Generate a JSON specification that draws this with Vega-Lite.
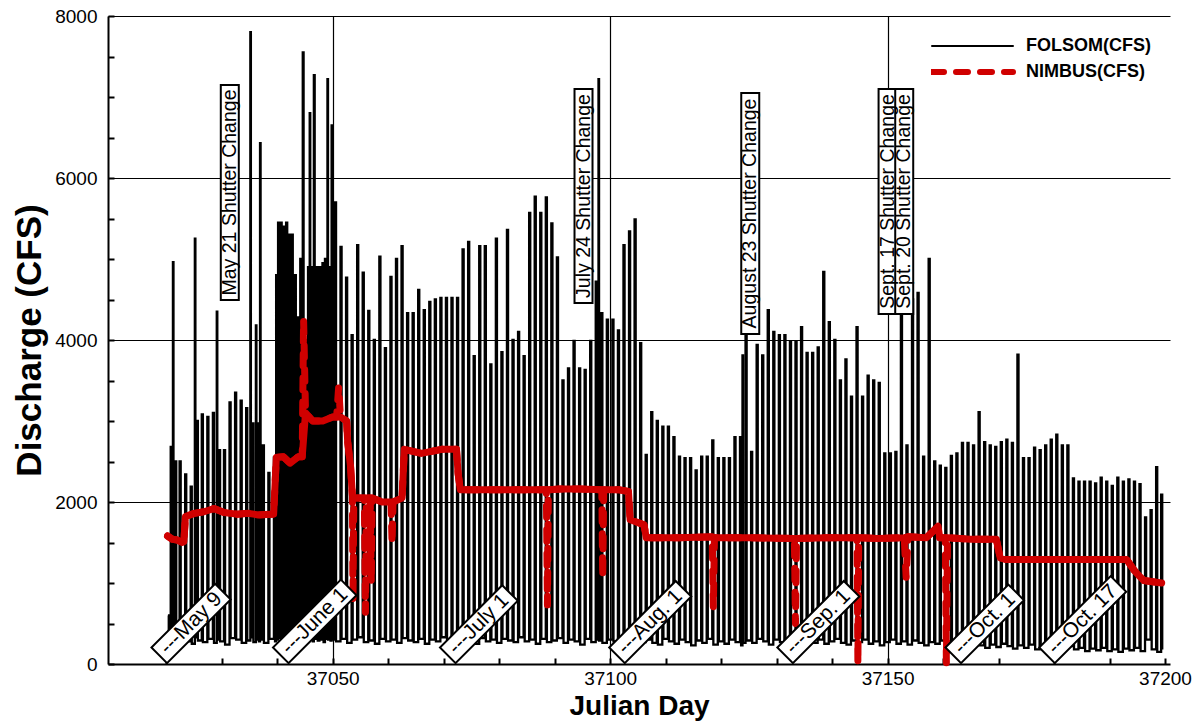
{
  "$schema": "https://vega.github.io/schema/vega-lite/v6.json",
  "width": 1062,
  "height": 648,
  "autosize": {"type": "none"},
  "padding": {"left": 108, "top": 16, "right": 28, "bottom": 60},
  "background": "white",
  "config": {
    "view": {"stroke": null},
    "font": "Liberation Sans",
    "axis": {
      "domainColor": "black", "domainWidth": 2,
      "tickColor": "black", "tickWidth": 2,
      "labelColor": "black", "titleColor": "black",
      "labelFont": "Liberation Sans", "titleFont": "Liberation Sans",
      "gridColor": "black"
    }
  },
  "datasets": {
    "folsom": [
      {"t":37020.3,"v":600},{"t":37020.45,"v":300},{"t":37020.8,"v":2680},{"t":37021.0,"v":280},
      {"t":37021.2,"v":4960},{"t":37021.3,"v":310},{"t":37021.6,"v":2500},{"t":37021.8,"v":260},
      {"t":37022.4,"v":2500},{"t":37022.6,"v":320},{"t":37023.4,"v":2340},{"t":37023.6,"v":280},
      {"t":37024.4,"v":2190},{"t":37024.6,"v":250},{"t":37025.15,"v":5250},{"t":37025.25,"v":330},
      {"t":37025.5,"v":3000},{"t":37025.7,"v":290},{"t":37026.4,"v":3080},{"t":37026.6,"v":270},
      {"t":37027.4,"v":3050},{"t":37027.6,"v":310},{"t":37028.4,"v":3100},{"t":37028.6,"v":260},
      {"t":37029.1,"v":4350},{"t":37029.2,"v":300},{"t":37029.5,"v":2640},{"t":37029.7,"v":280},
      {"t":37030.4,"v":2640},{"t":37030.6,"v":240},{"t":37031.4,"v":3230},{"t":37031.6,"v":320},
      {"t":37032.4,"v":3350},{"t":37032.6,"v":300},{"t":37033.4,"v":3250},{"t":37033.6,"v":260},
      {"t":37034.4,"v":3160},{"t":37034.6,"v":290},{"t":37035.15,"v":7800},{"t":37035.25,"v":330},
      {"t":37035.5,"v":2970},{"t":37035.7,"v":270},{"t":37036.15,"v":4180},{"t":37036.25,"v":300},
      {"t":37036.5,"v":2970},{"t":37036.7,"v":280},{"t":37036.9,"v":6430},{"t":37037.0,"v":300},
      {"t":37037.4,"v":2700},{"t":37037.6,"v":260},{"t":37038.4,"v":2360},{"t":37038.6,"v":310},
      {"t":37039.4,"v":2550},{"t":37039.6,"v":280},{"t":37039.8,"v":4800},{"t":37039.95,"v":300},
      {"t":37040.15,"v":5450},{"t":37040.35,"v":320},{"t":37040.6,"v":5450},{"t":37040.8,"v":300},
      {"t":37041.15,"v":5400},{"t":37041.35,"v":280},{"t":37041.6,"v":5450},{"t":37041.8,"v":310},
      {"t":37042.15,"v":5300},{"t":37042.35,"v":290},{"t":37042.6,"v":5300},{"t":37042.8,"v":330},
      {"t":37043.15,"v":4800},{"t":37043.35,"v":300},{"t":37043.6,"v":4280},{"t":37043.8,"v":280},
      {"t":37044.15,"v":5000},{"t":37044.35,"v":310},{"t":37044.6,"v":7550},{"t":37044.75,"v":300},
      {"t":37045.1,"v":4000},{"t":37045.3,"v":290},{"t":37045.55,"v":4900},{"t":37045.7,"v":320},
      {"t":37045.85,"v":6800},{"t":37045.95,"v":300},{"t":37046.2,"v":4900},{"t":37046.4,"v":280},
      {"t":37046.6,"v":7270},{"t":37046.75,"v":310},{"t":37047.1,"v":4900},{"t":37047.3,"v":290},
      {"t":37047.6,"v":4900},{"t":37047.8,"v":300},{"t":37048.15,"v":4950},{"t":37048.35,"v":270},
      {"t":37048.6,"v":5000},{"t":37048.8,"v":310},{"t":37049.05,"v":7220},{"t":37049.15,"v":300},
      {"t":37049.4,"v":4900},{"t":37049.6,"v":290},{"t":37049.8,"v":6650},{"t":37049.95,"v":300},
      {"t":37050.4,"v":5700},{"t":37050.6,"v":280},{"t":37051.4,"v":5150},{"t":37051.6,"v":310},
      {"t":37052.4,"v":4770},{"t":37052.6,"v":260},{"t":37053.4,"v":4060},{"t":37053.6,"v":300},
      {"t":37054.4,"v":5170},{"t":37054.6,"v":330},{"t":37055.4,"v":4830},{"t":37055.6,"v":270},
      {"t":37056.4,"v":4360},{"t":37056.6,"v":290},{"t":37057.4,"v":4000},{"t":37057.6,"v":250},
      {"t":37058.4,"v":5030},{"t":37058.6,"v":310},{"t":37059.4,"v":3900},{"t":37059.6,"v":280},
      {"t":37060.4,"v":4780},{"t":37060.6,"v":300},{"t":37061.4,"v":5000},{"t":37061.6,"v":260},
      {"t":37062.4,"v":5160},{"t":37062.6,"v":320},{"t":37063.4,"v":4330},{"t":37063.6,"v":290},
      {"t":37064.4,"v":4330},{"t":37064.6,"v":270},{"t":37065.4,"v":4620},{"t":37065.6,"v":310},
      {"t":37066.4,"v":4370},{"t":37066.6,"v":250},{"t":37067.4,"v":4470},{"t":37067.6,"v":300},
      {"t":37068.4,"v":4500},{"t":37068.6,"v":280},{"t":37069.4,"v":4520},{"t":37069.6,"v":330},
      {"t":37070.4,"v":4520},{"t":37070.6,"v":260},{"t":37071.4,"v":4520},{"t":37071.6,"v":290},
      {"t":37072.4,"v":4520},{"t":37072.6,"v":310},{"t":37073.4,"v":5120},{"t":37073.6,"v":270},
      {"t":37074.4,"v":5210},{"t":37074.6,"v":300},{"t":37075.4,"v":3800},{"t":37075.6,"v":250},
      {"t":37076.4,"v":5160},{"t":37076.6,"v":320},{"t":37077.4,"v":5160},{"t":37077.6,"v":280},
      {"t":37078.4,"v":3700},{"t":37078.6,"v":300},{"t":37079.4,"v":5250},{"t":37079.6,"v":260},
      {"t":37080.4,"v":3850},{"t":37080.6,"v":310},{"t":37081.4,"v":5360},{"t":37081.6,"v":290},
      {"t":37082.4,"v":4000},{"t":37082.6,"v":270},{"t":37083.4,"v":4100},{"t":37083.6,"v":330},
      {"t":37084.4,"v":3800},{"t":37084.6,"v":280},{"t":37085.4,"v":5570},{"t":37085.6,"v":300},
      {"t":37086.4,"v":5770},{"t":37086.6,"v":250},{"t":37087.4,"v":5570},{"t":37087.6,"v":310},
      {"t":37088.4,"v":5760},{"t":37088.6,"v":270},{"t":37089.4,"v":5440},{"t":37089.6,"v":290},
      {"t":37090.4,"v":5020},{"t":37090.6,"v":320},{"t":37091.4,"v":3500},{"t":37091.6,"v":260},
      {"t":37092.4,"v":3650},{"t":37092.6,"v":300},{"t":37093.4,"v":3990},{"t":37093.6,"v":280},
      {"t":37094.4,"v":3650},{"t":37094.6,"v":240},{"t":37095.4,"v":3630},{"t":37095.6,"v":310},
      {"t":37096.4,"v":3990},{"t":37096.6,"v":270},{"t":37097.4,"v":4720},{"t":37097.6,"v":300},
      {"t":37097.9,"v":7220},{"t":37098.0,"v":290},
      {"t":37098.4,"v":4330},{"t":37098.6,"v":260},{"t":37099.4,"v":4250},{"t":37099.6,"v":300},
      {"t":37100.4,"v":4250},{"t":37100.6,"v":280},{"t":37101.4,"v":4120},{"t":37101.6,"v":320},
      {"t":37102.4,"v":5170},{"t":37102.6,"v":250},{"t":37103.4,"v":5340},{"t":37103.6,"v":290},
      {"t":37104.4,"v":5490},{"t":37104.6,"v":310},{"t":37105.4,"v":3960},{"t":37105.6,"v":270},
      {"t":37106.4,"v":2580},{"t":37106.6,"v":300},{"t":37107.4,"v":3110},{"t":37107.6,"v":260},
      {"t":37108.4,"v":3000},{"t":37108.6,"v":240},{"t":37109.4,"v":2930},{"t":37109.6,"v":310},
      {"t":37110.4,"v":2930},{"t":37110.6,"v":280},{"t":37111.4,"v":2800},{"t":37111.6,"v":250},
      {"t":37112.4,"v":2560},{"t":37112.6,"v":300},{"t":37113.4,"v":2540},{"t":37113.6,"v":270},
      {"t":37114.4,"v":2540},{"t":37114.6,"v":230},{"t":37115.4,"v":2390},{"t":37115.6,"v":290},
      {"t":37116.4,"v":2560},{"t":37116.6,"v":260},{"t":37117.4,"v":2560},{"t":37117.6,"v":310},
      {"t":37118.4,"v":2760},{"t":37118.6,"v":240},{"t":37119.4,"v":2540},{"t":37119.6,"v":280},
      {"t":37120.4,"v":2540},{"t":37120.6,"v":250},{"t":37121.4,"v":2540},{"t":37121.6,"v":300},
      {"t":37122.4,"v":2800},{"t":37122.6,"v":270},{"t":37123.4,"v":2800},{"t":37123.6,"v":230},
      {"t":37123.85,"v":3810},{"t":37123.95,"v":260},
      {"t":37124.4,"v":4300},{"t":37124.6,"v":290},{"t":37125.4,"v":2620},{"t":37125.6,"v":260},
      {"t":37126.4,"v":3940},{"t":37126.6,"v":310},{"t":37127.4,"v":3810},{"t":37127.6,"v":280},
      {"t":37128.4,"v":4370},{"t":37128.6,"v":240},{"t":37129.4,"v":4100},{"t":37129.6,"v":300},
      {"t":37130.4,"v":4060},{"t":37130.6,"v":270},{"t":37131.4,"v":4060},{"t":37131.6,"v":250},
      {"t":37132.4,"v":3980},{"t":37132.6,"v":310},{"t":37133.4,"v":3980},{"t":37133.6,"v":280},
      {"t":37134.4,"v":4160},{"t":37134.6,"v":230},{"t":37135.4,"v":3840},{"t":37135.6,"v":290},
      {"t":37136.4,"v":3840},{"t":37136.6,"v":260},{"t":37137.4,"v":3910},{"t":37137.6,"v":300},
      {"t":37138.4,"v":4840},{"t":37138.6,"v":250},{"t":37139.4,"v":4220},{"t":37139.6,"v":280},
      {"t":37140.4,"v":4000},{"t":37140.6,"v":310},{"t":37141.4,"v":3500},{"t":37141.6,"v":260},
      {"t":37142.4,"v":3760},{"t":37142.6,"v":240},{"t":37143.4,"v":3300},{"t":37143.6,"v":290},
      {"t":37144.4,"v":4160},{"t":37144.6,"v":270},{"t":37145.4,"v":3300},{"t":37145.6,"v":300},
      {"t":37146.4,"v":3560},{"t":37146.6,"v":250},{"t":37147.4,"v":3500},{"t":37147.6,"v":280},
      {"t":37148.4,"v":3470},{"t":37148.6,"v":230},{"t":37149.4,"v":2600},{"t":37149.6,"v":270},
      {"t":37150.4,"v":2600},{"t":37150.6,"v":300},{"t":37151.4,"v":2620},{"t":37151.6,"v":250},
      {"t":37152.4,"v":4500},{"t":37152.6,"v":280},{"t":37153.4,"v":2700},{"t":37153.6,"v":240},
      {"t":37154.4,"v":4500},{"t":37154.6,"v":290},{"t":37155.4,"v":4580},{"t":37155.6,"v":260},
      {"t":37156.4,"v":2560},{"t":37156.6,"v":230},{"t":37157.4,"v":5000},{"t":37157.6,"v":270},
      {"t":37158.4,"v":2500},{"t":37158.6,"v":250},{"t":37159.4,"v":2450},{"t":37159.6,"v":290},
      {"t":37160.4,"v":2420},{"t":37160.6,"v":230},{"t":37161.4,"v":2570},{"t":37161.6,"v":260},
      {"t":37162.4,"v":2600},{"t":37162.6,"v":280},{"t":37163.4,"v":2730},{"t":37163.6,"v":240},
      {"t":37164.4,"v":2730},{"t":37164.6,"v":220},{"t":37165.4,"v":2700},{"t":37165.6,"v":260},
      {"t":37166.4,"v":3110},{"t":37166.6,"v":230},{"t":37167.4,"v":2740},{"t":37167.6,"v":200},
      {"t":37168.4,"v":2700},{"t":37168.6,"v":240},{"t":37169.4,"v":2680},{"t":37169.6,"v":210},
      {"t":37170.4,"v":2740},{"t":37170.6,"v":250},{"t":37171.4,"v":2770},{"t":37171.6,"v":220},
      {"t":37172.4,"v":2730},{"t":37172.6,"v":190},{"t":37173.4,"v":3820},{"t":37173.6,"v":230},
      {"t":37174.4,"v":2540},{"t":37174.6,"v":200},{"t":37175.4,"v":2540},{"t":37175.6,"v":240},
      {"t":37176.4,"v":2670},{"t":37176.6,"v":180},{"t":37177.4,"v":2640},{"t":37177.6,"v":220},
      {"t":37178.4,"v":2700},{"t":37178.6,"v":200},{"t":37179.4,"v":2770},{"t":37179.6,"v":170},
      {"t":37180.4,"v":2830},{"t":37180.6,"v":210},{"t":37181.4,"v":2700},{"t":37181.6,"v":190},
      {"t":37182.4,"v":2700},{"t":37182.6,"v":220},{"t":37183.4,"v":2290},{"t":37183.6,"v":180},
      {"t":37184.4,"v":2250},{"t":37184.6,"v":200},{"t":37185.4,"v":2250},{"t":37185.6,"v":160},
      {"t":37186.4,"v":2250},{"t":37186.6,"v":190},{"t":37187.4,"v":2230},{"t":37187.6,"v":170},
      {"t":37188.4,"v":2300},{"t":37188.6,"v":200},{"t":37189.4,"v":2250},{"t":37189.6,"v":160},
      {"t":37190.4,"v":2200},{"t":37190.6,"v":180},{"t":37191.4,"v":2300},{"t":37191.6,"v":150},
      {"t":37192.4,"v":2250},{"t":37192.6,"v":190},{"t":37193.4,"v":2280},{"t":37193.6,"v":170},
      {"t":37194.4,"v":2250},{"t":37194.6,"v":200},{"t":37195.4,"v":2220},{"t":37195.6,"v":160},
      {"t":37196.4,"v":1810},{"t":37196.6,"v":300},{"t":37197.4,"v":1900},{"t":37197.6,"v":180},
      {"t":37198.4,"v":2430},{"t":37198.6,"v":150},{"t":37199.3,"v":2090},{"t":37199.5,"v":180}
    ],
    "nimbus": [
      {"t":37020.23,"v":1580},{"t":37021.1,"v":1540},{"t":37022.0,"v":1530},{"t":37022.9,"v":1500},
      {"t":37023.17,"v":1510},{"t":37023.45,"v":1820},{"t":37025.05,"v":1860},{"t":37026.8,"v":1880},
      {"t":37028.6,"v":1920},{"t":37030.4,"v":1870},{"t":37032.7,"v":1850},{"t":37034.8,"v":1860},
      {"t":37036.6,"v":1840},{"t":37038.9,"v":1850},{"t":37039.35,"v":1850},{"t":37039.84,"v":2550},
      {"t":37041.1,"v":2560},{"t":37042.3,"v":2480},{"t":37043.8,"v":2560},{"t":37044.5,"v":2560},
      {"t":37044.75,"v":4250,"dip":true},{"t":37045.1,"v":3100},{"t":37046.4,"v":3000},{"t":37048.2,"v":3000},
      {"t":37050.0,"v":3050},{"t":37050.7,"v":3050},{"t":37051.07,"v":3420,"dip":true},{"t":37051.4,"v":3050},
      {"t":37052.5,"v":3000},{"t":37052.7,"v":2740},{"t":37053.2,"v":2450},{"t":37053.55,"v":2080},
      {"t":37053.65,"v":770,"dip":true},{"t":37053.8,"v":2050},{"t":37055.7,"v":2050},
      {"t":37055.9,"v":640,"dip":true},{"t":37056.06,"v":2050},{"t":37056.76,"v":2050},
      {"t":37056.95,"v":1000,"dip":true},{"t":37057.1,"v":2050},{"t":37058.9,"v":2000},{"t":37060.5,"v":2000},
      {"t":37060.7,"v":1490,"dip":true},{"t":37060.87,"v":2000},{"t":37062.5,"v":2050},{"t":37062.9,"v":2650},
      {"t":37066.0,"v":2600},{"t":37069.6,"v":2650},{"t":37072.3,"v":2650},{"t":37072.6,"v":2350},
      {"t":37073.0,"v":2150},{"t":37076.7,"v":2150},{"t":37080.3,"v":2150},{"t":37083.9,"v":2150},
      {"t":37088.5,"v":2150},{"t":37088.7,"v":730,"dip":true},{"t":37088.86,"v":2150},{"t":37091.0,"v":2160},
      {"t":37094.6,"v":2160},{"t":37098.5,"v":2150},{"t":37098.66,"v":1070,"dip":true},{"t":37098.84,"v":2150},
      {"t":37101.7,"v":2150},{"t":37103.3,"v":2130},{"t":37103.6,"v":1780},{"t":37106.1,"v":1720},
      {"t":37106.5,"v":1560},{"t":37112.4,"v":1560},{"t":37118.4,"v":1570},{"t":37118.6,"v":700,"dip":true},
      {"t":37118.8,"v":1560},{"t":37124.9,"v":1560},{"t":37133.2,"v":1550},{"t":37133.4,"v":500,"dip":true},
      {"t":37133.6,"v":1550},{"t":37139.1,"v":1560},{"t":37144.5,"v":1560},{"t":37144.65,"v":0,"dip":true},
      {"t":37144.8,"v":1560},{"t":37148.2,"v":1550},{"t":37153.0,"v":1560},{"t":37153.35,"v":1070,"dip":true},
      {"t":37153.7,"v":1570},{"t":37157.0,"v":1560},{"t":37159.1,"v":1700},{"t":37159.4,"v":1560},
      {"t":37160.4,"v":1560},{"t":37160.6,"v":0,"dip":true},{"t":37160.8,"v":1560},{"t":37165.0,"v":1540},
      {"t":37169.6,"v":1540},{"t":37170.3,"v":1310},{"t":37171.2,"v":1290},{"t":37178.3,"v":1290},
      {"t":37187.2,"v":1290},{"t":37193.1,"v":1290},{"t":37194.4,"v":1160},{"t":37195.6,"v":1070},
      {"t":37196.2,"v":1030},{"t":37199.4,"v":1000}
    ],
    "noteBoxes": [
      {"t":37031.45,"v":7148,"v2":4494},
      {"t":37095.2,"v":7099,"v2":4457},
      {"t":37125.25,"v":7049,"v2":4074},
      {"t":37150.0,"v":7099,"v2":4321},
      {"t":37153.0,"v":7099,"v2":4321}
    ],
    "noteTexts": [
      {"t":37031.45,"v":5821,"label":"May 21 Shutter Change"},
      {"t":37095.2,"v":5778,"label":"July 24 Shutter Change"},
      {"t":37125.25,"v":5562,"label":"August 23 Shutter Change"},
      {"t":37150.0,"v":5710,"label":"Sept. 17 Shutter Change"},
      {"t":37153.0,"v":5710,"label":"Sept. 20 Shutter Change"}
    ],
    "months": [
      {"t":37019.5,"v":160,"label":"---May 9"},
      {"t":37041.4,"v":160,"label":"---June 1"},
      {"t":37071.5,"v":160,"label":"---July 1"},
      {"t":37102.0,"v":160,"label":"---Aug. 1"},
      {"t":37132.3,"v":160,"label":"---Sep. 1"},
      {"t":37162.6,"v":160,"label":"---Oct. 1"},
      {"t":37179.5,"v":160,"label":"---Oct. 17"}
    ]
  },
  "encoding": {
    "x": {
      "field": "t", "type": "quantitative",
      "scale": {"domain": [37010.4, 37200], "nice": false, "zero": false},
      "axis": {
        "title": "Julian Day",
        "values": [37020,37030,37040,37050,37060,37070,37080,37090,37100,37110,37120,37130,37140,37150,37160,37170,37180,37190,37200],
        "format": "d",
        "labelExpr": "datum.value % 50 === 0 ? datum.label : ''",
        "labelFlush": false, "labelOverlap": false,
        "labelFontSize": 19, "labelPadding": 11,
        "tickSize": -6,
        "grid": true, "gridWidth": 1.2,
        "gridOpacity": {"condition": {"test": "datum.value % 50 === 0 && datum.value < 37200", "value": 1}, "value": 0},
        "titleFontSize": 28, "titleFontWeight": "bold",
        "titleX": 531, "titleY": 42, "titleBaseline": "middle", "titleAlign": "center"
      }
    },
    "y": {
      "field": "v", "type": "quantitative",
      "scale": {"domain": [0, 8000], "nice": false},
      "axis": {
        "title": "Discharge (CFS)",
        "values": [0,500,1000,1500,2000,2500,3000,3500,4000,4500,5000,5500,6000,6500,7000,7500,8000],
        "format": "d",
        "labelExpr": "datum.value % 2000 === 0 ? datum.label : ''",
        "labelFlush": false, "labelOverlap": false,
        "labelFontSize": 19, "labelPadding": 17,
        "tickSize": -6,
        "grid": true, "gridWidth": 1.2,
        "gridOpacity": {"condition": {"test": "datum.value % 2000 === 0 && datum.value > 0", "value": 1}, "value": 0},
        "titleFontSize": 35, "titleFontWeight": "bold",
        "titleX": -79, "titleY": 324, "titleAngle": -90, "titleBaseline": "middle", "titleAlign": "center"
      }
    }
  },
  "layer": [
    {
      "data": {"name": "folsom"},
      "mark": {"type": "line", "interpolate": "step-after", "strokeWidth": 2.3},
      "encoding": {
        "color": {
          "datum": "FOLSOM(CFS)", "type": "nominal",
          "scale": {"domain": ["FOLSOM(CFS)", "NIMBUS(CFS)"], "range": ["#000000", "#d00000"]},
          "legend": {
            "orient": "none", "legendX": 823, "legendY": 20, "title": null,
            "symbolType": "stroke", "symbolSize": 6561, "clipHeight": 20, "rowPadding": 6,
            "padding": 0, "labelOffset": 12,
            "labelFont": "Liberation Sans", "labelFontSize": 18, "labelFontWeight": "bold", "labelColor": "black",
            "encode": {
              "symbols": {
                "update": {
                  "strokeWidth": {"signal": "(datum.value === 'NIMBUS(CFS)' ? 6 : 2)"},
                  "strokeDash": {"signal": "(datum.value === 'NIMBUS(CFS)' ? [12, 12] : [1, 0])"},
                  "strokeCap": {"value": "round"}
                }
              }
            }
          }
        }
      }
    },
    {
      "data": {"name": "nimbus"},
      "transform": [{"filter": "!datum.dip"}],
      "mark": {"type": "line", "strokeWidth": 7, "strokeCap": "round", "strokeJoin": "round"},
      "encoding": {"color": {"datum": "NIMBUS(CFS)", "type": "nominal"}}
    },
    {
      "data": {"name": "nimbus"},
      "mark": {"type": "line", "strokeWidth": 7, "strokeCap": "round", "strokeJoin": "round", "strokeDash": [12, 12]},
      "encoding": {"color": {"datum": "NIMBUS(CFS)", "type": "nominal"}}
    },
    {
      "data": {"name": "noteBoxes"},
      "mark": {"type": "bar", "width": 18, "fill": "white", "stroke": "black", "strokeWidth": 2},
      "encoding": {"y2": {"field": "v2"}}
    },
    {
      "data": {"name": "noteTexts"},
      "mark": {"type": "text", "angle": 270, "fontSize": 19.5, "font": "Liberation Sans", "align": "center", "baseline": "middle", "color": "black"},
      "encoding": {"text": {"field": "label"}}
    },
    {
      "data": {"name": "months"},
      "mark": {"type": "point", "filled": true, "fill": "white", "stroke": "black", "strokeWidth": 2, "opacity": 1, "fillOpacity": 1, "size": 4, "angle": 315},
      "encoding": {
        "shape": {
          "field": "label", "type": "nominal", "legend": null,
          "scale": {
            "domain": ["---May 9", "---June 1", "---July 1", "---Aug. 1", "---Sep. 1", "---Oct. 1", "---Oct. 17"],
            "range": ["M-6,-11H84V11H-6Z", "M-6,-11H90V11H-6Z", "M-6,-11H82V11H-6Z", "M-6,-11H88V11H-6Z", "M-6,-11H88V11H-6Z", "M-6,-11H83V11H-6Z", "M-6,-11H95V11H-6Z"]
          }
        }
      }
    },
    {
      "data": {"name": "months"},
      "mark": {"type": "text", "angle": 315, "align": "left", "baseline": "middle", "fontSize": 21, "font": "Liberation Sans", "color": "black"},
      "encoding": {"text": {"field": "label"}}
    }
  ]
}
